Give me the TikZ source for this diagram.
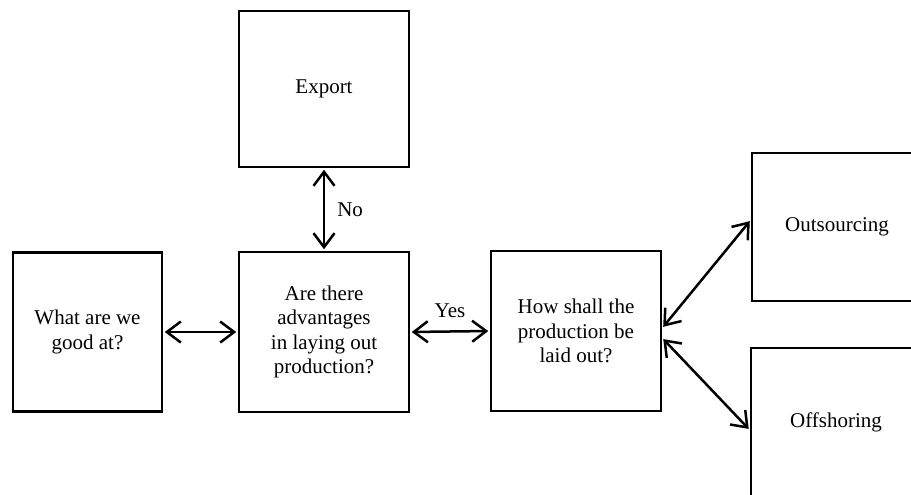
\documentclass[tikz,border=0pt]{standalone}
\usepackage{fontspec}
\setmainfont{Liberation Serif}
\usetikzlibrary{arrows.meta}
\begin{document}
\begin{tikzpicture}[x=1pt,y=-1pt,
  box/.style={draw=black,line width=2.5pt,align=center,inner sep=0pt,
    font=\fontsize{21}{24.5}\selectfont},
  conn/.style={line width=2.5pt,shorten <=1.5pt,shorten >=1.5pt,{Straight Barb[length=14pt,width=21pt,line width=2.5pt]}-{Straight Barb[length=14pt,width=21pt,line width=2.5pt]}},
  lbl/.style={font=\fontsize{21}{24}\selectfont,inner sep=0pt}]
\useasboundingbox (0,0) rectangle (911,495);
\clip (0,0) rectangle (911,495);
\node[box,minimum width=149pt,minimum height=159pt] (good) at (87.5,332) {What are we\\good at?};
\node[box,minimum width=170pt,minimum height=160pt] (adv) at (324,332) {Are there\\advantages\\in laying out\\production?};
\node[box,minimum width=170pt,minimum height=156pt] (exp) at (324,89) {Export};
\node[box,minimum width=170pt,minimum height=160pt] (how) at (576,331) {How shall the\\production be\\laid out?};
\node[box,minimum width=170pt,minimum height=148pt] (out) at (837,227) {Outsourcing};
\node[box,minimum width=170pt,minimum height=148pt] (off) at (836,422) {Offshoring};
\coordinate (h1) at ([yshift=3pt]how.east);
\coordinate (h2) at ([yshift=-7pt]how.east);
\coordinate (o1) at ([yshift=7pt]out.west);
\coordinate (o2) at ([yshift=-8pt]off.west);
\draw[conn] (good.east) -- (adv.west);
\draw[conn] (adv.east) -- node[lbl,above=13pt] {Yes} (how.west);
\draw[conn] (exp.south) -- node[lbl,right=12pt] {No} (adv.north);
\draw[conn] (h1) -- (o1);
\draw[conn] (h2) -- (o2);
\end{tikzpicture}
\end{document}
